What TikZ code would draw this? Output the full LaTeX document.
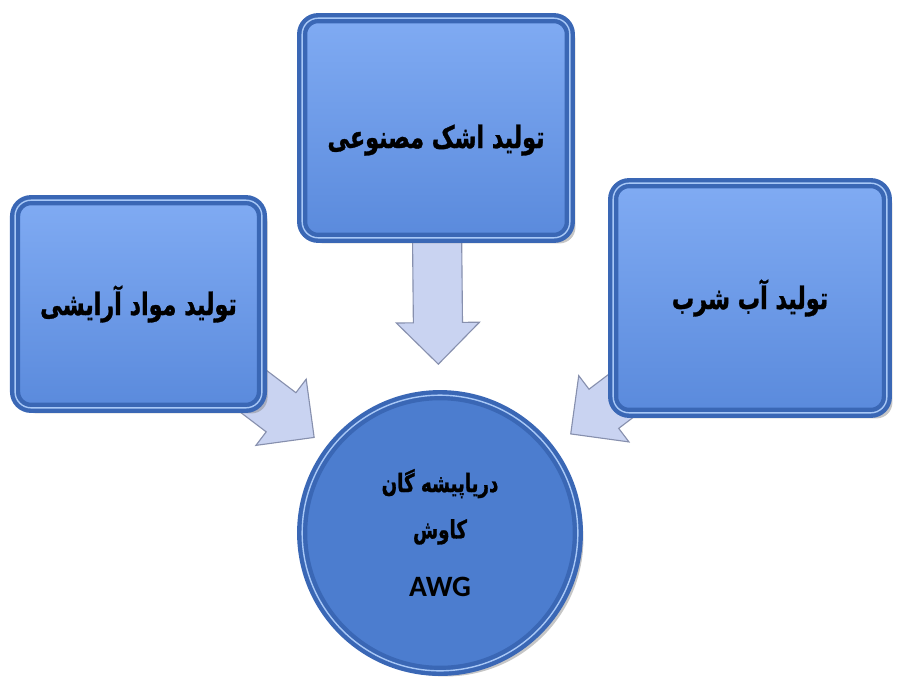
\documentclass[tikz,border=0pt]{standalone}
\usepackage{fontspec}
\newfontfamily\farsifont[Script=Arabic, FakeStretch=0.72, BoldFeatures={FakeBold=1}]{DejaVu Sans}
\newfontfamily\awgfont{Carlito}
\TeXXeTstate=1
\usetikzlibrary{calc}
\usetikzlibrary{shadows}
\usepgflibrary{shapes.arrows}
\pgfdeclarelayer{arrows}
\pgfsetlayers{arrows,main}
\definecolor{rimblue}{HTML}{3A67B5}
\definecolor{rimlight}{HTML}{A8C8F7}
\definecolor{paneltop}{HTML}{80ABF3}
\definecolor{panelbottom}{HTML}{5A8ADC}
\definecolor{hubfill}{HTML}{4C7DCF}
\definecolor{arrowfill}{HTML}{C9D3F1}
\definecolor{arrowedge}{HTML}{8790AE}
\tikzset{
    panel/.style = {
        rectangle, rounded corners=4mm, inner sep=0pt, align=center,
        draw=rimblue, line width=1.1mm, double=rimlight, double distance=0.35mm,
        top color=paneltop, bottom color=panelbottom,
        drop shadow={shadow xshift=1.4mm, shadow yshift=-1.4mm, opacity=.45},
        font=\farsifont\bfseries\fontsize{22}{26}\selectfont
    },
    hub/.style = {
        circle, inner sep=0pt, align=center,
        draw=rimblue, line width=1.1mm, double=rimlight, double distance=0.35mm,
        fill=hubfill,
        drop shadow={shadow xshift=1.4mm, shadow yshift=-1.4mm, opacity=.45},
        font=\farsifont\bfseries\fontsize{18}{33}\selectfont
    },
    blockarrow/.style = {
        single arrow, minimum height=3.4cm, inner xsep=0pt, inner ysep=0.6cm,
        single arrow head extend=0.425cm,
        fill=arrowfill, draw=arrowedge, line width=0.8pt,
        sloped, allow upside down, pos=1, anchor=tip
    },
}

\begin{document}
\begin{tikzpicture}[x=0.025cm, y=-0.025cm]
        \useasboundingbox (0,0) rectangle (898,683);

        % Place the blocks
        \node[panel, minimum width=6.69cm, minimum height=5.49cm, text height=1.2cm, text depth=0.2cm] (tears) at (436,128)
            {\beginR تولید اشک مصنوعی\endR};
        \node[panel, minimum width=6.17cm, minimum height=5.19cm] (cosmetics) at (138.5,304)
            {\beginR تولید مواد آرایشی\endR};
        \node[panel, minimum width=6.84cm, minimum height=5.74cm] (drinking) at (750,298)
            {\beginR تولید آب شرب\endR};
        \node[hub, minimum size=6.89cm] (awg) at (440,533)
            {\beginR دریاپیشه گان\endR\\ \beginR کاوش\endR\\[3mm] {\awgfont\fontsize{21}{21}\selectfont AWG}};

        % Draw connections
        \begin{pgfonlayer}{arrows}
            \path (tears.center) -- ($(awg.center)!4.2cm!(tears.center)$)
                node[blockarrow] (toTears) {};
            \path (cosmetics.center) -- ($(awg.center)!3.93cm!(cosmetics.center)$)
                node[blockarrow] (toCosmetics) {};
            \path (drinking.center) -- ($(awg.center)!4.08cm!(drinking.center)$)
                node[blockarrow] (toDrinking) {};
        \end{pgfonlayer}
    \end{tikzpicture}
\end{document}
